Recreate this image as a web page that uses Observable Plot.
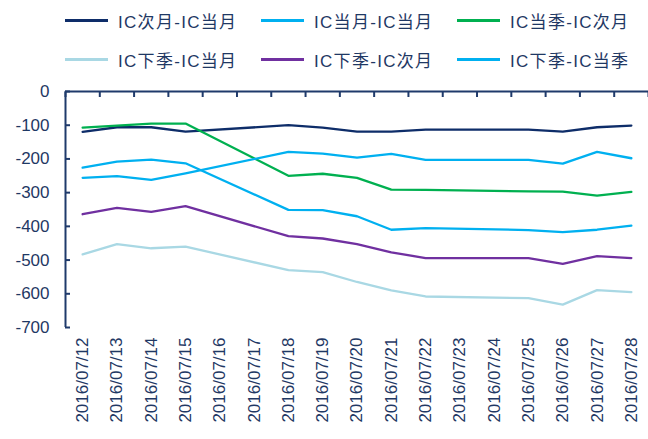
<!DOCTYPE html>
<html><head><meta charset="utf-8">
<script src="https://cdn.jsdelivr.net/npm/d3@7"></script>
<script src="https://cdn.jsdelivr.net/npm/@observablehq/plot@0.6"></script>
<style>
body{margin:0;background:#fff;font-family:"Liberation Sans",Arial,"Noto Sans CJK SC",sans-serif;}
#wrap{position:relative;width:648px;height:439px;overflow:hidden;}
#chart{position:absolute;left:0;top:0;}
#legend{position:absolute;left:0;top:0;width:648px;height:80px;z-index:2;}
.item{position:absolute;display:flex;align-items:center;height:22px;color:#1F3864;font-size:17px;letter-spacing:1.3px;white-space:nowrap;}
.item .sw{width:43px;height:0;border-top:3px solid;margin-right:10px;}
</style></head>
<body><div id="wrap"><div id="chart"></div><div id="legend"></div></div>
<script>
const dates = ["2016/07/12","2016/07/13","2016/07/14","2016/07/15","2016/07/16","2016/07/17","2016/07/18","2016/07/19","2016/07/20","2016/07/21","2016/07/22","2016/07/23","2016/07/24","2016/07/25","2016/07/26","2016/07/27","2016/07/28"];
const seriesNames = ["IC次月-IC当月","IC当月-IC当月","IC当季-IC次月","IC下季-IC当月","IC下季-IC次月","IC下季-IC当季"];
const seriesColors = ["#0E2D69","#00B0F0","#00B050","#A9D8E4","#7030A0","#00B0F0"];
const yTicks = [0,-100,-200,-300,-400,-500,-600,-700];
const ciNextMinusCur   = [-120,-106,-106,-119,null,null,-100,-107,-119,-119,-113,null,null,-113,-119,-106,-101];
const ciCurMinusCur    = [-226,-208,-202,-213,null,null,-351,-352,-370,-410,-405,null,null,-411,-417,-410,-398];
const ciQtrMinusNext   = [-107,-101,-95,-95,null,null,-250,-244,-256,-291,-292,null,null,-296,-297,-309,-298];
const ciNQtrMinusCur   = [-483,-453,-465,-460,null,null,-530,-536,-565,-590,-608,null,null,-613,-632,-589,-595];
const ciNQtrMinusNext  = [-364,-345,-357,-340,null,null,-429,-436,-453,-477,-494,null,null,-494,-511,-488,-494];
const ciNQtrMinusQtr   = [-256,-251,-262,-243,null,null,-179,-184,-196,-185,-203,null,null,-203,-214,-179,-198];
const seriesValues = [ciNextMinusCur, ciCurMinusCur, ciQtrMinusNext, ciNQtrMinusCur, ciNQtrMinusNext, ciNQtrMinusQtr];

const rows = [];
seriesValues.forEach((vals, s) => vals.forEach((v, i) => { if (v != null) rows.push({name: seriesNames[s], i, v}); }));

const idx = dates.map((d, i) => i);
const xDomain = [-0.5, dates.length - 0.5];
const bounds = d3.range(dates.length + 1).map(k => k - 0.5);
const axisColor = "#1F3A6B";
const textColor = "#1F3864";

const chart = Plot.plot({
  width: 648, height: 439,
  marginTop: 91, marginBottom: 112, marginLeft: 65, marginRight: 0,
  style: {fontFamily: '"Liberation Sans", Arial, sans-serif', background: "#fff"},
  x: {type: "linear", domain: xDomain},
  y: {domain: [-700, 0]},
  color: {domain: seriesNames, range: seriesColors},
  marks: [
    Plot.axisX(idx, {anchor: "bottom", tickSize: 0, tickPadding: 10, tickRotate: -90, tickFormat: i => dates[i], fontSize: 17, fill: textColor, label: null, style: {letterSpacing: "1.6px"}}),
    Plot.axisX(bounds, {anchor: "top", tickSize: -5, tickFormat: () => "", stroke: axisColor, strokeWidth: 2, label: null}),
    Plot.axisY(yTicks, {anchor: "left", tickSize: -5, tickPadding: 21, tickFormat: d => String(d), fontSize: 17, fill: textColor, stroke: axisColor, strokeWidth: 2, label: null, style: {letterSpacing: "1px"}}),
    Plot.ruleY([0], {stroke: axisColor, strokeWidth: 2}),
    Plot.ruleX([xDomain[0]], {y1: -700, y2: 0, stroke: axisColor, strokeWidth: 2}),
    Plot.line(rows, {x: "i", y: "v", z: "name", stroke: "name", strokeWidth: 2.3, curve: "linear"})
  ]
});
document.getElementById("chart").appendChild(chart);

const legend = document.getElementById("legend");
const colX = [65, 261, 457];
const rowY = [9, 48];
seriesNames.forEach((n, k) => {
  const el = document.createElement("div");
  el.className = "item";
  el.style.left = colX[k % 3] + "px";
  el.style.top = rowY[Math.floor(k / 3)] + "px";
  el.innerHTML = `<span class="sw" style="border-color:${seriesColors[k]}"></span><span>${n}</span>`;
  legend.appendChild(el);
});
</script>
</body></html>
